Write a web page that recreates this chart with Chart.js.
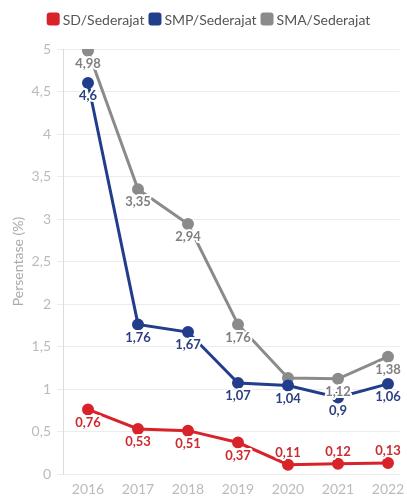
<!DOCTYPE html>
<html>
<head>
<meta charset="utf-8">
<script src="https://cdn.jsdelivr.net/npm/chart.js@4/dist/chart.umd.min.js"></script>
<style>
  html, body { margin: 0; padding: 0; background: #fff; overflow: hidden; }
  #wrap { width: 407px; height: 499px; position: relative; }
</style>
</head>
<body>
<div id="wrap"><canvas id="c"></canvas></div>
<script>
// Tahun pengamatan
const years = [2016, 2017, 2018, 2019, 2020, 2021, 2022];
// Angka putus sekolah (%) per jenjang
const sd  = [0.76, 0.53, 0.51, 0.37, 0.11, 0.12, 0.13];
const smp = [4.6, 1.76, 1.67, 1.07, 1.04, 0.9, 1.06];
const sma = [4.98, 3.35, 2.94, 1.76, 1.13, 1.12, 1.38];
// Posisi label nilai (atas/bawah titik)
const sdLabelPos  = ['below', 'below', 'below', 'below', 'above', 'above', 'above'];
const smpLabelPos = ['below', 'below', 'below', 'below', 'below', 'below', 'below'];
const smaLabelPos = ['below', 'below', 'below', 'below', 'below', 'below', 'below'];
// Label sumbu Y
const yTicks = [0, 0.5, 1, 1.5, 2, 2.5, 3, 3.5, 4, 4.5, 5];

const FONT = 'Lato';
const fmt = v => String(v).replace('.', ',');

const toPoints = arr => arr.map((v, i) => ({ x: years[i], y: v }));

function series(label, data, color, labelColor, pos) {
  return {
    label,
    data: toPoints(data),
    borderColor: color,
    backgroundColor: color,
    pointBackgroundColor: color,
    pointBorderColor: color,
    borderWidth: 3,
    pointRadius: 4.5,
    pointHoverRadius: 4.5,
    tension: 0,
    labelColor,
    labelPos: pos
  };
}

// Legenda ringkas di atas grafik: kotak bersudut bulat + nama seri
const compactLegend = {
  id: 'compactLegend',
  afterDraw(chart) {
    const ctx = chart.ctx;
    const box = 13, gapText = 3, gapItem = 4, cy = 19;
    ctx.save();
    ctx.font = '14px ' + FONT;
    ctx.textBaseline = 'middle';
    ctx.textAlign = 'left';
    const items = chart.data.datasets.map(ds => ({
      ds, w: box + gapText + ctx.measureText(ds.label).width
    }));
    const total = items.reduce((s, it) => s + it.w, 0) + gapItem * (items.length - 1);
    let x = 208.5 - total / 2;
    items.forEach(it => {
      ctx.fillStyle = it.ds.borderColor;
      ctx.beginPath();
      ctx.roundRect(x, cy - box / 2, box, box, 3);
      ctx.fill();
      ctx.fillStyle = '#555';
      ctx.fillText(it.ds.label, x + box + gapText, cy + 1);
      x += it.w + gapItem;
    });
    ctx.restore();
  }
};

// Label nilai dengan garis tepi putih; label yang bertumpuk disembunyikan
const valueLabels = {
  id: 'valueLabels',
  afterDatasetsDraw(chart) {
    const ctx = chart.ctx;
    const placed = [];
    ctx.save();
    ctx.font = 'bold 13px ' + FONT;
    ctx.textAlign = 'center';
    ctx.textBaseline = 'middle';
    ctx.lineJoin = 'round';
    chart.data.datasets.forEach((ds, di) => {
      const meta = chart.getDatasetMeta(di);
      meta.data.forEach((pt, i) => {
        const text = fmt(ds.data[i].y);
        const w = ctx.measureText(text).width;
        const h = 13;
        const y = ds.labelPos[i] === 'above' ? pt.y - 12 : pt.y + 13;
        const b = { l: pt.x - w / 2, r: pt.x + w / 2, t: y - h / 2, b: y + h / 2 };
        const hit = placed.some(p => !(b.r < p.l || b.l > p.r || b.b < p.t || b.t > p.b));
        if (hit) return;
        placed.push(b);
        ctx.strokeStyle = '#fff';
        ctx.lineWidth = 4;
        ctx.strokeText(text, pt.x, y);
        ctx.fillStyle = ds.labelColor;
        ctx.fillText(text, pt.x, y);
      });
    });
    ctx.restore();
  }
};

new Chart(document.getElementById('c'), {
  type: 'line',
  data: {
    datasets: [
      series('SD/Sederajat', sd, '#d9232a', '#cc2a30', sdLabelPos),
      series('SMP/Sederajat', smp, '#213d8c', '#2c3f80', smpLabelPos),
      series('SMA/Sederajat', sma, '#8b8b8b', '#7f7f7f', smaLabelPos)
    ]
  },
  options: {
    responsive: true,
    maintainAspectRatio: false,
    animation: false,
    layout: { padding: { top: 49, right: 0, bottom: 1, left: 6 } },
    plugins: {
      tooltip: { enabled: false },
      legend: { display: false }
    },
    scales: {
      x: {
        type: 'linear',
        min: 2015.5,
        max: 2022.23,
        afterBuildTicks(scale) {
          scale.ticks = years.map(v => ({ value: v }));
        },
        afterFit(scale) {
          scale.height = 24;
          scale.paddingLeft = 0;
          scale.paddingRight = 0;
        },
        ticks: {
          color: '#bbb',
          font: { family: FONT, size: 14 },
          callback: v => String(v),
          maxRotation: 0,
          autoSkip: false,
          padding: 7
        },
        grid: { display: false, drawTicks: false },
        border: { display: false }
      },
      y: {
        min: 0,
        max: 5,
        afterBuildTicks(scale) {
          scale.ticks = yTicks.map(v => ({ value: v }));
        },
        afterFit(scale) { scale.width = 57; },
        ticks: {
          color: '#bbb',
          font: { family: FONT, size: 14 },
          callback: v => fmt(v),
          padding: 6
        },
        grid: { color: '#ececec', tickLength: 6 },
        border: { color: '#dcdcdc' },
        title: {
          display: true,
          text: 'Persentase (%)',
          color: '#aaa',
          font: { family: FONT, size: 14 }
        }
      }
    }
  },
  plugins: [valueLabels, compactLegend]
});
</script>
</body>
</html>
